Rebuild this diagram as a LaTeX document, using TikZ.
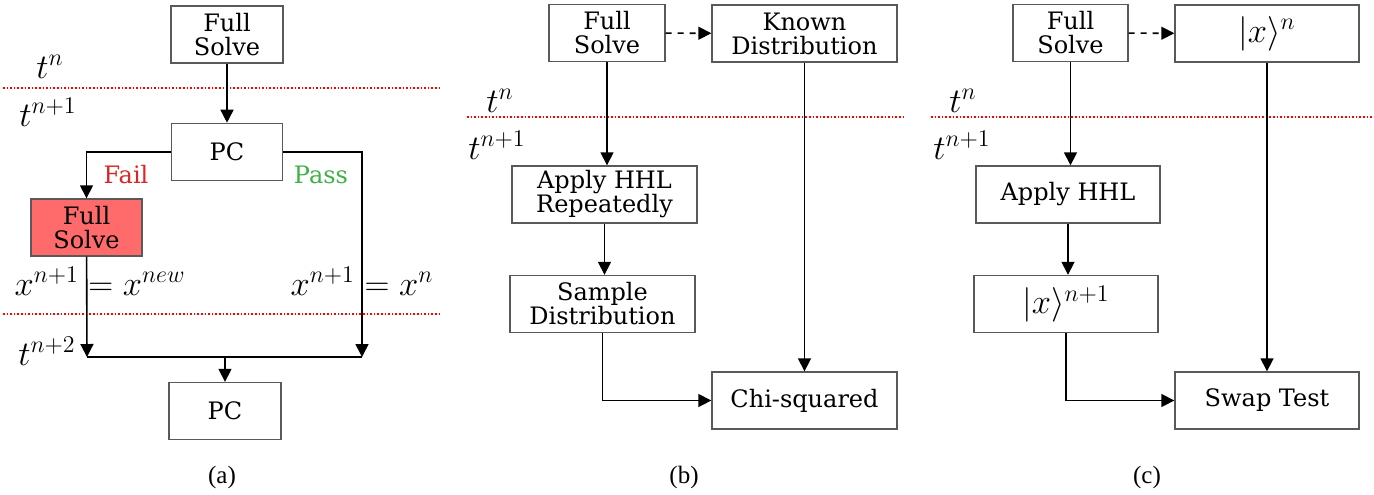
\documentclass[tikz,border=0pt]{standalone}
\usepackage[no-math]{fontspec}
\setmainfont{DejaVu Serif}
\newfontfamily\capfont{Liberation Serif}
\usetikzlibrary{arrows.meta,positioning}
\definecolor{failfill}{RGB}{255,107,107}
\definecolor{failtxt}{RGB}{214,40,40}
\definecolor{passtxt}{RGB}{64,176,72}
\tikzset{
  stage/.style={draw=black!65, line width=0.7pt, rectangle, minimum height=28.5pt, inner sep=1pt, align=center, font=\fontsize{12}{12}\selectfont},
  arr/.style={-{Triangle[length=6.5pt,width=6.5pt]}, line width=0.8pt},
  darr/.style={arr, dashed},
  tline/.style={red, densely dotted, line width=0.8pt},
  tlab/.style={font=\fontsize{17}{17}\selectfont},
  subcap/.style={font=\capfont\fontsize{12.5}{12.5}\selectfont},
}

\begin{document}
\begin{tikzpicture}[x=0.5pt, y=-0.5pt]
\useasboundingbox (0,0) rectangle (1374,494);
% panel (a): predictor-corrector step
\node[stage, minimum width=56pt] (fsA) at (227,34.5) {Full\\Solve};
\node[stage, minimum width=55.5pt, below=29.5pt of fsA] (pcA) {PC};
\node[stage, minimum width=55.5pt, fill=failfill] (fs2A) at (86.5,227.5) {Full\\Solve};
\node[stage, minimum width=56pt] (pc2A) at (225,411) {PC};
\coordinate (jL) at (87,357);
\coordinate (jR) at (362,357);
\draw[tline] (3,88) -- (440,88);
\draw[tline] (3,314) -- (440,314);
\node[tlab] (tnA) at (50,67) {$t^n$};
\node[tlab] (tn1A) at (48,112) {$t^{n+1}$};
\node[tlab] (tn2A) at (47,351) {$t^{n+2}$};
\draw[arr] (fsA) -- (pcA);
\draw[arr] (pcA.west) -| (fs2A.north);
\draw[arr] (pcA.east) -| (jR);
\draw[arr] (fs2A) -- (jL);
\draw[line width=0.8pt] (jL) -- (jR);
\draw[arr] (pc2A.north |- jL) -- (pc2A);
\node[font=\fontsize{12}{12}\selectfont, text=failtxt] (failA) at (126,175) {Fail};
\node[font=\fontsize{12}{12}\selectfont, text=passtxt] (passA) at (321,175) {Pass};
\node[tlab] (xnewA) at (100,281) {$x^{n+1} = x^{new}$};
\node[tlab] (xoldA) at (362,281) {$x^{n+1} = x^n$};
\node[subcap] (capA) at (222,477) {(a)};
% panel (b): chi-squared test
\node[stage, minimum width=58pt] (fsB) at (607,33) {Full\\Solve};
\node[stage, minimum width=92.5pt] (kdB) at (804.5,33.5) {Known\\Distribution};
\node[stage, minimum width=92.5pt] (ahB) at (604.5,194.5) {Apply HHL\\Repeatedly};
\node[stage, minimum width=92.5pt] (sdB) at (602.5,304) {Sample\\Distribution};
\node[stage, minimum width=92.5pt] (chB) at (804.5,400.5) {Chi-squared};
\draw[tline] (467,117) -- (903,117);
\node[tlab] (tnB) at (500,101) {$t^n$};
\node[tlab] (tn1B) at (497,145) {$t^{n+1}$};
\draw[darr] (fsB) -- (kdB);
\draw[arr] (fsB) -- (fsB |- ahB.north);
\draw[arr] (ahB) -- (ahB |- sdB.north);
\draw[arr] (sdB.south) |- (chB.west);
\draw[arr] (kdB) -- (chB);
\node[subcap] (capB) at (684,477) {(b)};
% panel (c): swap test
\node[stage, minimum width=57.5pt] (fsC) at (1070.5,33) {Full\\Solve};
\node[stage, minimum width=92pt, font=\fontsize{17.5}{17.5}\selectfont] (ketC) at (1267,33.5) {$|x\rangle^n$};
\node[stage, minimum width=92pt] (ahC) at (1068,194.5) {Apply HHL};
\node[stage, minimum width=92pt, font=\fontsize{17.5}{17.5}\selectfont] (kxC) at (1066,304) {$|x\rangle^{n+1}$};
\node[stage, minimum width=92pt] (swC) at (1267,400.5) {Swap Test};
\draw[tline] (931,117) -- (1374,117);
\node[tlab] (tnC) at (963,101) {$t^n$};
\node[tlab] (tn1C) at (962,145) {$t^{n+1}$};
\draw[darr] (fsC) -- (ketC);
\draw[arr] (fsC) -- (fsC |- ahC.north);
\draw[arr] (ahC) -- (ahC |- kxC.north);
\draw[arr] (kxC.south) |- (swC.west);
\draw[arr] (ketC) -- (swC);
\node[subcap] (capC) at (1147,477) {(c)};
\end{tikzpicture}
\end{document}
